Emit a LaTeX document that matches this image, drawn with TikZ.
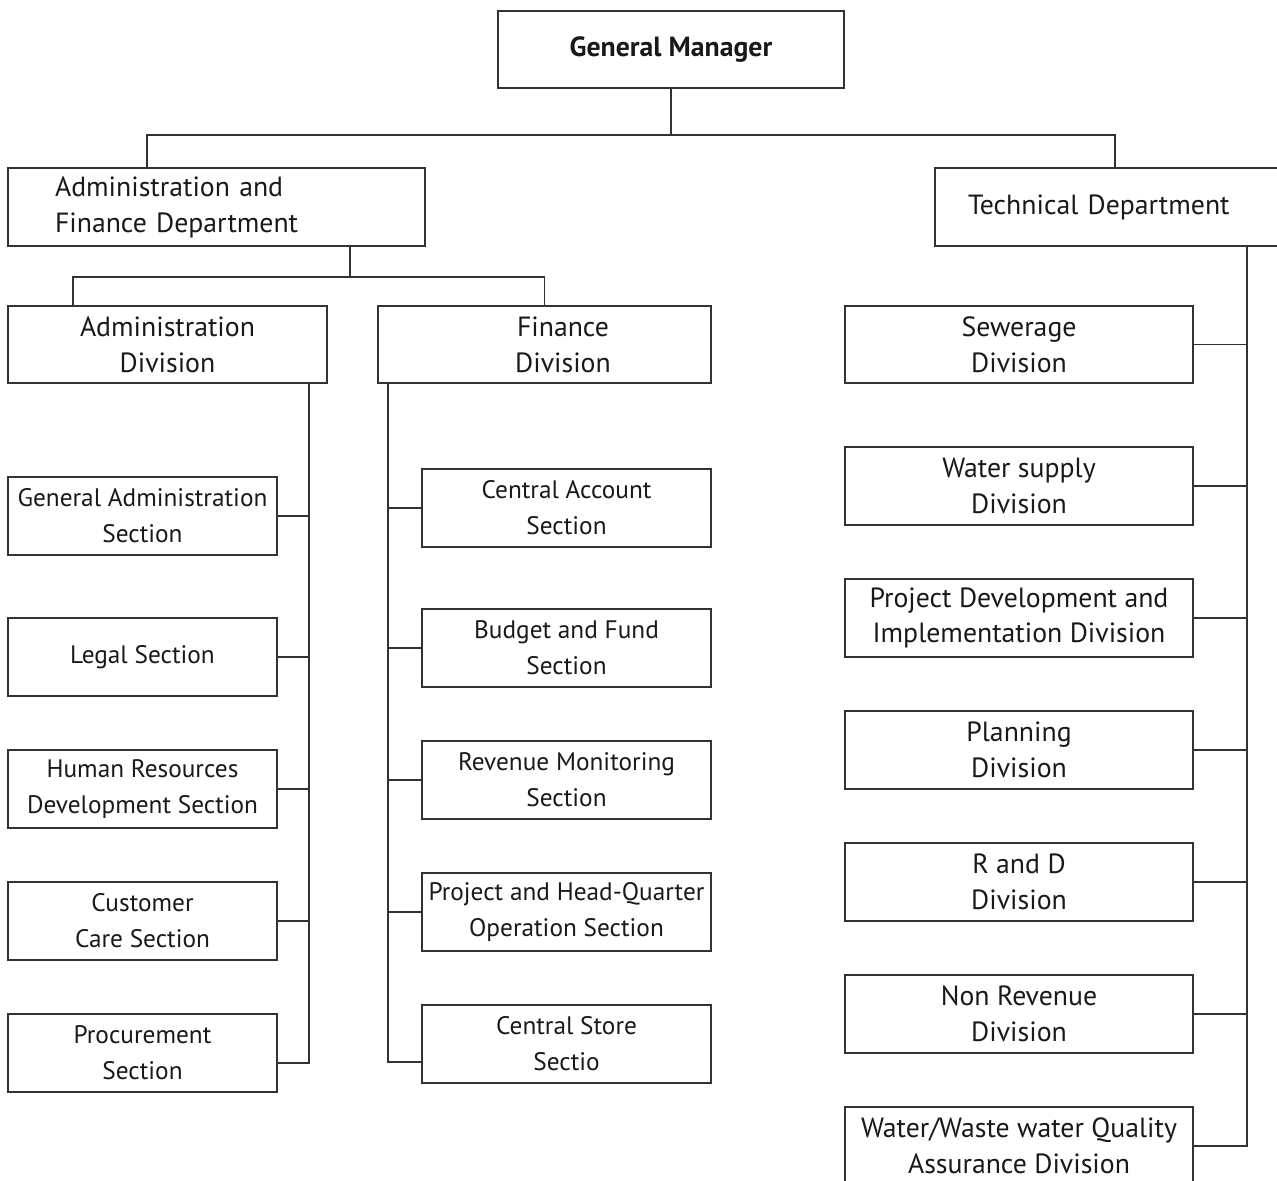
\documentclass[tikz,border=0pt]{standalone}
\usepackage{fontspec}
\setmainfont{PT Sans}
\usepackage{tikz}
\usetikzlibrary{positioning}
\tikzset{box/.style={rectangle,draw=black!80,line width=0.9pt,align=center,inner sep=0pt,outer sep=0pt,minimum height=1.56cm,text=black!90,font=\fontsize{15.8pt}{20.4pt}\selectfont},secbox/.style={box,minimum width=5.38cm,font=\fontsize{14.4pt}{20.4pt}\selectfont},accbox/.style={secbox,minimum width=5.78cm},divbox/.style={box,minimum width=6.96cm},line/.style={draw=black!80,line width=0.9pt}}

\begin{document}
\begin{tikzpicture}[x=0.02cm,y=-0.02cm,node distance=1.08cm]
\useasboundingbox (0,0) rectangle (1277,1180);
\clip (0,0) rectangle (1277,1180);
% top levels
\node[box, minimum width=6.92cm, minimum height=1.54cm] (gm) at (671,49.5) {\textbf{General Manager}};
\node[box, align=left, text width=6.46cm, inner xsep=0.94cm] (afd) at (216.5,207) {Administration and\\Finance Department};
\node[box, align=left, text width=5.88cm, inner xsep=0.66cm] (tech) at (1115,207) {Technical Department};
\node[box, minimum width=6.38cm, minimum height=1.54cm] (adm) at (167.5,344.5) {Administration\\Division};
\node[box, minimum width=6.66cm, minimum height=1.54cm] (fin) at (544.5,344.5) {\hspace*{0.74cm}Finance\\\hspace*{0.74cm}Division};
% administration sections
\node[secbox] (as1) at (142.5,516) {General Administration\\Section};
\node[secbox, below=1.26cm of as1] (as2) {Legal Section};
\node[secbox, below=of as2] (as3) {Human Resources\\Development Section};
\node[secbox, below=of as3] (as4) {Customer\\Care Section};
\node[secbox, below=of as4] (as5) {Procurement\\Section};
% finance sections
\node[accbox] (fs1) at (566.5,508) {Central Account\\Section};
\node[accbox, below=1.24cm of fs1] (fs2) {Budget and Fund\\Section};
\node[accbox, below=of fs2] (fs3) {Revenue Monitoring\\Section};
\node[accbox, below=of fs3] (fs4) {Project and Head-Quarter\\Operation Section};
\node[accbox, below=of fs4] (fs5) {Central Store\\Sectio};
% technical divisions
\node[divbox, minimum height=1.54cm] (td1) at (1019,344.5) {Sewerage\\Division};
\node[divbox, below=1.28cm of td1] (td2) {Water supply\\Division};
\node[divbox, below=of td2] (td3) {Project Development and\\Implementation Division};
\node[divbox, below=of td3] (td4) {Planning\\Division};
\node[divbox, below=of td4] (td5) {R and D\\Division};
\node[divbox, below=of td5] (td6) {Non Revenue\\Division};
\node[divbox, below=of td6] (td7) {Water/Waste water Quality\\Assurance Division};
% connectors
\coordinate (gmjoin) at ([yshift=-0.94cm]gm.south);
\coordinate (afjoin) at ([yshift=-0.62cm, xshift=6.84cm]afd.south west);
\coordinate (atrunk) at ([xshift=-0.36cm]adm.south east);
\coordinate (ftrunk) at ([xshift=0.2cm]fin.south west);
\coordinate (ttrunk) at ([xshift=6.24cm]tech.south west);
\coordinate (as5b) at ([yshift=-0.2cm]as5.east);
\coordinate (fs5b) at ([yshift=-0.36cm]fs5.west);
\draw[line] (gm.south) -- (gmjoin);
\draw[line] ([xshift=2.78cm]afd.north west) |- (gmjoin) -| (tech.north);
\draw[line] ([xshift=6.84cm]afd.south west) -- (afjoin);
\draw[line] ([xshift=1.3cm]adm.north west) |- (afjoin) -| (fin.north);
\draw[line] (atrunk) |- (as5b);
\draw[line] (as1.east) -- (as1.east -| atrunk);
\draw[line] (as2.east) -- (as2.east -| atrunk);
\draw[line] (as3.east) -- (as3.east -| atrunk);
\draw[line] (as4.east) -- (as4.east -| atrunk);
\draw[line] (ftrunk) |- (fs5b);
\draw[line] (fs1.west) -- (fs1.west -| ftrunk);
\draw[line] (fs2.west) -- (fs2.west -| ftrunk);
\draw[line] (fs3.west) -- (fs3.west -| ftrunk);
\draw[line] (fs4.west) -- (fs4.west -| ftrunk);
\draw[line] (ttrunk) |- (td7.east);
\draw[line] (td1.east) -- (td1.east -| ttrunk);
\draw[line] (td2.east) -- (td2.east -| ttrunk);
\draw[line] (td3.east) -- (td3.east -| ttrunk);
\draw[line] (td4.east) -- (td4.east -| ttrunk);
\draw[line] (td5.east) -- (td5.east -| ttrunk);
\draw[line] (td6.east) -- (td6.east -| ttrunk);
\end{tikzpicture}
\end{document}
